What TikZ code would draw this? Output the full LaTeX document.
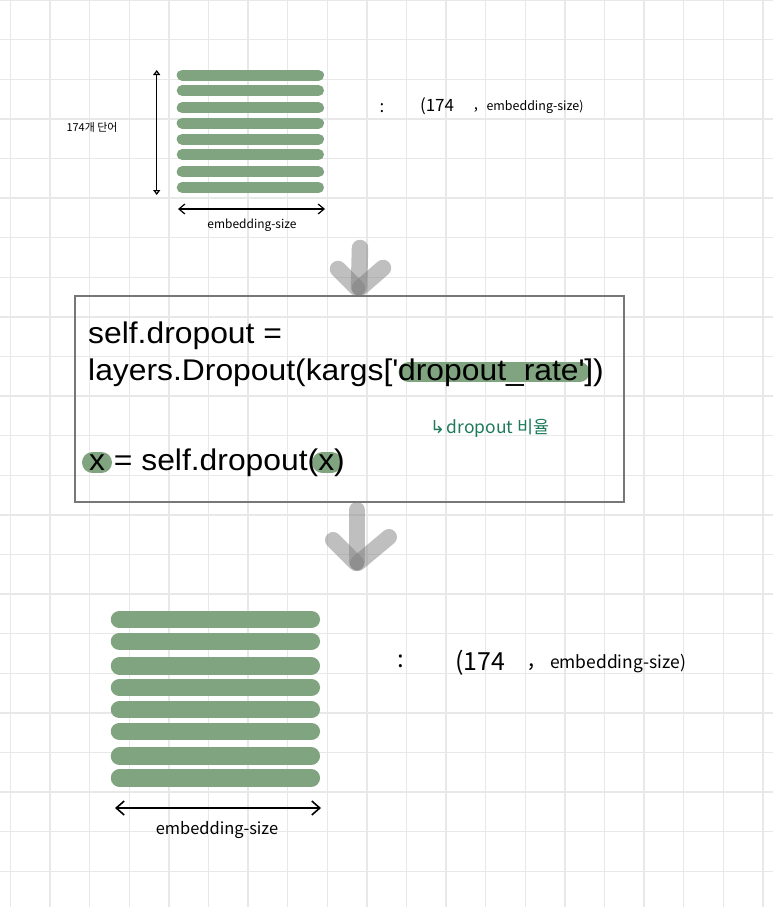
\documentclass[tikz,border=0pt]{standalone}
\usepackage{fontspec}
\setmainfont{Liberation Sans}[FakeStretch=1.065]
\newfontfamily\krfont{Noto Sans CJK KR}
\newfontfamily\symfont{DejaVu Sans}
\usetikzlibrary{arrows.meta}
\definecolor{gridc}{HTML}{E8E8E8}
\definecolor{barg}{HTML}{7FA47F}
\definecolor{boxc}{HTML}{777777}
\definecolor{notec}{HTML}{1E7A5C}
\definecolor{arrg}{HTML}{808080}
\tikzset{
  gridline/.style={draw=gridc, line width=1.4bp},
  topbar/.style={draw=barg, line width=11bp, line cap=round},
  botbar/.style={draw=barg, line width=17.5bp, line cap=round},
  hilite/.style={draw=barg, line cap=round},
  grayarrow/.style={draw=arrg, draw opacity=0.5, line cap=round, line join=round},
  codetext/.style={anchor=base west, inner sep=0pt, font=\fontsize{30}{36}\selectfont},
  hand/.style={inner sep=0pt, font=\krfont\fontsize{#1}{#1}\selectfont},
  dimarrow/.style={draw=black, line width=1.2bp},
}
\begin{document}
\begin{tikzpicture}[x=1bp,y=-1bp]
\useasboundingbox (0,0) rectangle (773,907);
\fill[white] (0,0) rectangle (773,907);
% grid
\foreach \i in {0,...,19} \draw[gridline] ({10.4+39.6*\i},0) -- ++(0,907);
\foreach \j in {0,...,22} \draw[gridline] (0,{39.6*\j}) -- ++(773,0);

% ---------- top block ----------
\foreach \y in {75.3,90.5,107.8,123.3,139.2,154.5,171.8,187.5}
  \draw[topbar] (182.2,\y) -- (318.5,\y);
\coordinate (tvtop) at (156.7,70);
\coordinate (tvbot) at (156.7,195);
\draw[dimarrow, {Triangle[open,length=5bp,width=7bp]}-{Triangle[open,length=5bp,width=7bp]}] (tvtop) -- (tvbot);
\coordinate (thl) at (178,209);
\coordinate (thr) at (325,209);
\draw[dimarrow, {Straight Barb[length=6bp,width=10bp]}-{Straight Barb[length=6bp,width=10bp]}] (thl) -- (thr);
\node[hand=11] (tcount) at (92,127) {174개 단어};
\node[hand=12] (tembl) at (252,225) {embedding-size};
\node[hand=17] (tcolon) at (382,108) {:};
\node[hand=17] (tpar) at (437,106) {(174};
\node[hand=15] (tcomma) at (476,110) {,};
\node[hand=12.5] (tshape) at (535,107) {embedding-size)};

% ---------- gray arrow 1 ----------
\draw[grayarrow, line width=16.5bp] (360,248) -- (359,287);
\draw[grayarrow, line width=16.5bp] (338,269) -- (357,288);
\draw[grayarrow, line width=16.5bp] (383,268) -- (360,288);

% ---------- code box ----------
\node[draw=boxc, line width=1.5bp, inner sep=0pt, minimum width=549bp, minimum height=206bp, anchor=north west] (box) at (74.3,295) {};
\draw[hilite, line width=20bp] (408.6,372) -- (579.6,372);
\draw[hilite, line width=21bp] (92.5,462.5) -- (101.5,462.5);
\draw[hilite, line width=21bp] (322.5,462.5) -- (331.5,462.5);
\node[codetext] (l1) at (88,343) {self.dropout =};
\node[codetext] (l2) at (88,380.7) {layers.Dropout(kargs[\textquotesingle dropout\_rate\textquotesingle])};
\node[codetext] (l3) at (89,470) {x = self.dropout(x)};
\node[inner sep=0pt, text=notec, anchor=west] (note) at (430,428) {{\symfont\fontsize{18}{18}\selectfont ↳}\,{\krfont\fontsize{17.5}{17.5}\selectfont dropout 비율}};

% ---------- gray arrow 2 ----------
\draw[grayarrow, line width=16bp] (357,510) -- (357,562);
\draw[grayarrow, line width=16bp] (333,540) -- (356,563);
\draw[grayarrow, line width=16bp] (389,537) -- (358,563);

% ---------- bottom block ----------
\foreach \y in {619.5,641.3,665.8,687.5,709.7,731.3,756.2,778}
  \draw[botbar] (119.5,\y) -- (311.3,\y);
\coordinate (bhl) at (115,808);
\coordinate (bhr) at (321,808);
\draw[dimarrow, line width=1.6bp, {Straight Barb[length=8bp,width=14bp]}-{Straight Barb[length=8bp,width=14bp]}] (bhl) -- (bhr);
\node[hand=16.5] (bembl) at (217,830) {embedding-size};
\node[hand=24] (bcolon) at (401,661) {:};
\node[hand=25] (bpar) at (480,663) {(174};
\node[hand=22] (bcomma) at (532,667) {,};
\node[hand=17.5] (bshape) at (618,664) {embedding-size)};
\end{tikzpicture}
\end{document}
